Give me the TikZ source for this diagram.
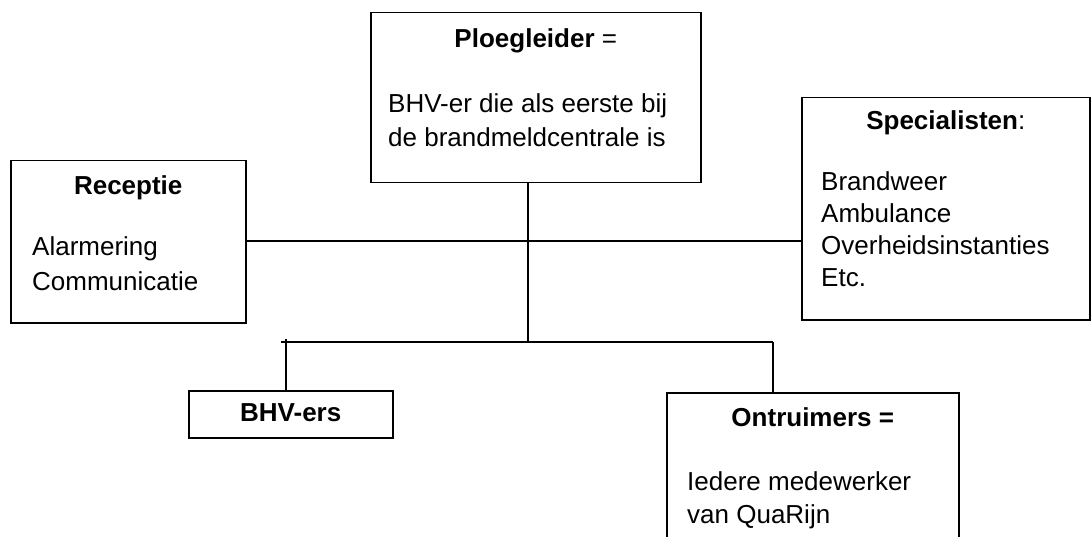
\documentclass[tikz,border=0pt]{standalone}
\usepackage{fontspec}
\setmainfont{Liberation Sans}
\usetikzlibrary{positioning}

\tikzset{
  box/.style={draw, line width=1.5pt, anchor=north west, inner sep=0pt},
  title/.style={font=\fontsize{26}{33}\selectfont, inner sep=0pt, anchor=base},
  body/.style={font=\fontsize{26}{33}\selectfont, align=left, inner sep=0pt, anchor=base west},
  link/.style={line width=1.5pt},
}

\begin{document}
\begin{tikzpicture}[x=1pt,y=-1pt]
	\clip (0,0) rectangle (1091,537);
	% boxes
	\node[box, minimum width=330pt, minimum height=170pt] (ploeg) at (370,12) {};
	\node[box, minimum width=235pt, minimum height=162pt] (recep) at (10,160) {};
	\node[box, minimum width=288pt, minimum height=222pt] (spec) at (801,97) {};
	\node[box, minimum width=204pt, minimum height=47pt] (bhv) at (188,390) {};
	\node[box, minimum width=292pt, minimum height=170pt] (ontr) at (666,392) {};
	% titles
	\node[title] (ploegT) at ([yshift=-36pt]ploeg.north) {\textbf{Ploegleider} =};
	\node[title] (recepT) at ([yshift=-35pt]recep.north) {\textbf{Receptie}};
	\node[title] (specT) at ([yshift=-33pt]spec.north) {\textbf{Specialisten}:};
	\node[title] (bhvT) at ([yshift=-31pt]bhv.north) {\textbf{BHV-ers}};
	\node[title] (ontrT) at ([yshift=-34pt]ontr.north) {\textbf{Ontruimers =}};
	% texts (anchored at the last line)
	\node[body, font=\fontsize{26}{34}\selectfont] (ploegB) at (388,147) {BHV-er die als eerste bij\\de brandmeldcentrale is};
	\node[body, font=\fontsize{26}{35}\selectfont] (recepB) at (32,290) {Alarmering\\Communicatie};
	\node[body, font=\fontsize{26}{32}\selectfont] (specB) at (821,286) {Brandweer\\Ambulance\\Overheidsinstanties\\Etc.};
	\node[body] (ontrB) at (687,523) {Iedere medewerker\\van QuaRijn};
	% lines
	\coordinate (mid) at (528,241);
	\coordinate (hub) at (528,342);
	\coordinate (barL) at (281,342);
	\coordinate (barR) at (773,342);
	\coordinate (tickL) at (286,339);
	\draw[link] (ploeg.south -| hub) -- (hub);
	\draw[link] (recep.east |- mid) -- (spec.west |- mid);
	\draw[link] (barL) -- (barR);
	\draw[link] (tickL) -- (tickL |- bhv.north);
	\draw[link] (barR) -- (barR |- ontr.north);
\end{tikzpicture}
\end{document}
